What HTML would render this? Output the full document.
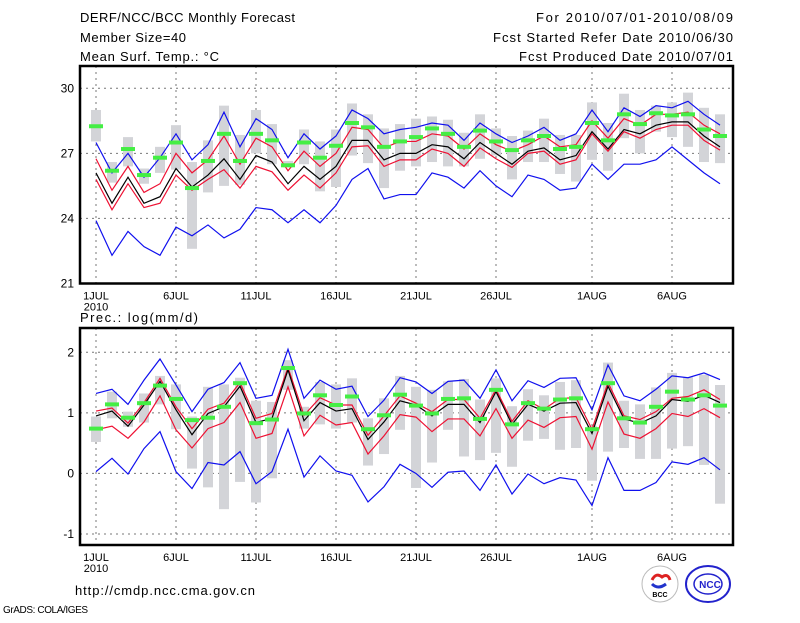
<!DOCTYPE html>
<html><head><meta charset="utf-8"><style>
body{margin:0;background:#fff}
svg text{font-family:"Liberation Sans",sans-serif;fill:#000}
</style></head><body>
<svg id="chart" width="800" height="618" viewBox="0 0 800 618" xmlns="http://www.w3.org/2000/svg">
<rect width="800" height="618" fill="#fff"/>
<g font-size="13">
<text x="80" y="22" textLength="215">DERF/NCC/BCC Monthly Forecast</text>
<text x="80" y="42" textLength="106">Member Size=40</text>
<text x="80" y="61" textLength="139">Mean Surf. Temp.: °C</text>
<text x="733" y="22" text-anchor="end" textLength="197">For 2010/07/01-2010/08/09</text>
<text x="733" y="42" text-anchor="end" textLength="240">Fcst Started Refer Date 2010/06/30</text>
<text x="733" y="61" text-anchor="end" textLength="214">Fcst Produced Date 2010/07/01</text>
<text x="80" y="322" textLength="118">Prec.: log(mm/d)</text>
<text x="75" y="595" textLength="180">http://cmdp.ncc.cma.gov.cn</text>
<text x="3" y="613" font-size="10" textLength="85">GrADS: COLA/IGES</text>
</g>
<g>
<circle cx="660" cy="584" r="18" fill="#fff" stroke="#bbb" stroke-width="1"/>
<path d="M652 580 q4 -8 10 -3 q6 -4 8 3" fill="none" stroke="#d22" stroke-width="3"/>
<path d="M652 584 q6 6 14 0" fill="none" stroke="#23c" stroke-width="3"/>
<text x="660" y="597" font-size="7" text-anchor="middle" font-weight="bold">BCC</text>
<ellipse cx="708" cy="584" rx="22" ry="18" fill="#fff" stroke="#22c" stroke-width="2"/>
<ellipse cx="708" cy="584" rx="14" ry="10" fill="none" stroke="#22c" stroke-width="1.5"/>
<text x="710" y="588" font-size="10" text-anchor="middle" fill="#22c" style="fill:#22c" font-weight="bold">NCC</text>
</g>
<g id="top"></g>
<g id="bot"></g>
</svg>
<script>
const xLabels=["1JUL","6JUL","11JUL","16JUL","21JUL","26JUL","1AUG","6AUG"];
const xLabelDays=[0,5,10,15,20,25,31,36];
const tTicks=[21,24,27,30];
const pTicks=[-1,0,1,2];
const tMax=[27.5,26.1,27.0,25.9,26.8,27.9,26.7,27.4,28.9,27.3,28.6,28.1,26.8,27.9,27.2,27.8,29.0,28.6,27.9,28.1,28.2,28.4,28.3,27.6,28.4,27.9,27.5,27.8,28.2,27.6,27.9,29.0,28.0,29.1,28.7,29.2,29.1,29.4,28.8,28.3];
const tMin=[23.9,22.3,23.4,22.7,22.3,23.6,23.2,23.7,23.1,23.5,24.5,24.4,23.8,24.4,23.8,24.6,25.8,26.3,24.9,25.1,25.1,26.1,25.9,25.4,26.2,25.5,25.0,26.0,25.8,25.3,25.4,26.5,25.8,26.5,26.5,26.7,27.3,26.7,26.1,25.6];
const tUp=[26.75,25.3,26.4,25.2,25.6,27.0,26.1,26.7,27.8,26.5,27.7,27.3,26.2,27.1,26.4,27.0,28.2,28.1,27.25,27.55,27.55,27.9,27.8,27.2,27.9,27.4,27.1,27.4,27.8,27.3,27.4,28.5,27.7,28.6,28.3,28.8,28.8,28.9,28.3,27.9];
const tMean=[26.1,24.7,25.9,24.7,25.0,26.3,25.45,26.0,26.75,25.8,26.9,26.6,25.6,26.4,25.8,26.4,27.6,27.6,26.7,27.0,27.0,27.4,27.3,26.75,27.5,27.0,26.5,27.1,27.25,26.7,26.9,28.0,27.2,28.1,27.9,28.3,28.45,28.45,27.8,27.3];
const tLow=[25.8,24.4,25.6,24.5,24.7,26.0,25.3,25.8,26.25,25.4,26.4,26.15,25.3,26.0,25.4,26.1,27.3,27.35,26.4,26.7,26.7,27.2,27.0,26.4,27.25,26.75,26.35,27.0,27.1,26.5,26.7,27.9,27.1,28.0,27.7,28.1,28.3,28.3,27.6,27.15];
const tObs=[28.25,26.2,27.2,26.0,26.8,27.5,25.4,26.65,27.9,26.65,27.9,27.6,26.45,27.5,26.8,27.35,28.4,28.2,27.3,27.55,27.75,28.15,27.9,27.3,28.05,27.55,27.15,27.6,27.8,27.2,27.3,28.4,27.6,28.8,28.35,28.85,28.75,28.8,28.1,27.8];
const tBarHi=[29.0,26.6,27.75,26.3,27.3,28.3,26.6,27.6,29.2,27.85,29.0,28.35,26.65,28.1,27.55,28.1,29.3,28.8,28.15,28.35,28.6,28.7,28.55,27.95,28.8,28.15,27.8,28.05,28.6,27.85,27.85,29.35,28.4,29.75,29.0,29.2,29.35,29.8,29.1,28.8];
const tBarLo=[27.55,25.65,26.4,25.6,26.1,26.25,22.6,25.2,25.5,25.55,27.0,26.5,26.35,26.5,25.25,25.45,26.9,26.55,25.4,26.2,26.4,26.6,26.4,26.4,26.75,26.9,25.8,26.6,26.6,26.05,25.7,26.7,26.2,27.7,27.0,28.0,27.75,27.3,26.6,26.55];
const pMax=[1.32,1.39,1.14,1.54,1.89,1.46,1.02,1.39,1.5,1.83,1.24,1.29,2.05,1.24,1.54,1.39,1.44,0.94,1.21,1.58,1.51,1.32,1.52,1.54,1.24,1.71,1.2,1.53,1.42,1.57,1.58,1.05,1.79,1.28,1.2,1.39,1.61,1.58,1.66,1.55];
const pMin=[0.03,0.25,-0.01,0.41,0.69,0.03,-0.25,0.18,0.14,0.36,-0.17,0.03,0.73,-0.06,0.29,0.04,-0.03,-0.47,-0.22,0.15,0.0,-0.23,0.02,0.04,-0.28,0.14,-0.34,-0.01,-0.17,-0.07,-0.11,-0.53,0.26,-0.28,-0.28,-0.15,0.19,0.15,0.26,0.06];
const pUp=[1.03,1.08,0.83,1.17,1.57,1.1,0.74,1.06,1.16,1.5,0.91,0.99,1.75,0.96,1.25,1.13,1.13,0.63,0.95,1.28,1.16,1.02,1.22,1.22,0.91,1.39,0.86,1.2,1.06,1.24,1.25,0.73,1.5,0.95,0.89,1.02,1.24,1.27,1.38,1.22];
const pMean=[0.95,1.03,0.78,1.13,1.52,1.05,0.64,0.99,1.1,1.44,0.84,0.91,1.71,0.87,1.17,1.03,1.07,0.56,0.85,1.2,1.13,0.95,1.14,1.14,0.84,1.35,0.81,1.14,1.03,1.16,1.17,0.66,1.44,0.9,0.83,0.95,1.22,1.19,1.29,1.17];
const pLow=[0.72,0.78,0.58,0.85,1.28,0.72,0.42,0.74,0.84,1.17,0.58,0.66,1.43,0.62,0.96,0.8,0.84,0.32,0.62,0.97,0.93,0.69,0.9,0.9,0.62,1.07,0.58,0.88,0.76,0.92,0.94,0.4,1.18,0.65,0.58,0.74,0.99,0.94,1.07,0.92];
const pObs=[0.74,1.14,0.92,1.16,1.45,1.23,0.88,0.92,1.1,1.49,0.83,0.89,1.74,0.99,1.29,1.13,1.27,0.73,0.96,1.3,1.12,0.99,1.23,1.24,0.9,1.38,0.81,1.16,1.07,1.22,1.24,0.73,1.49,0.91,0.84,1.1,1.35,1.22,1.29,1.12];
const pBarHi=[0.94,1.35,1.02,1.32,1.61,1.47,0.94,1.43,1.47,1.58,1.2,1.18,1.87,1.1,1.51,1.47,1.57,0.91,1.24,1.61,1.43,1.38,1.52,1.56,1.22,1.57,1.11,1.39,1.29,1.51,1.54,0.78,1.83,1.2,1.14,1.42,1.66,1.59,1.63,1.46];
const pBarLo=[0.52,0.91,0.77,0.84,1.14,0.73,0.08,-0.23,-0.59,-0.14,-0.48,-0.08,1.38,0.74,0.81,0.74,0.84,0.13,0.32,0.72,-0.24,0.18,0.72,0.28,0.22,0.34,0.11,0.54,0.57,0.39,0.42,-0.12,0.36,0.42,0.24,0.24,0.41,0.45,0.14,-0.5];

const NS="http://www.w3.org/2000/svg";
function mk(parent,tag,attrs){const e=document.createElementNS(NS,tag);for(const k in attrs)e.setAttribute(k,attrs[k]);parent.appendChild(e);return e;}
const X0=80,X1=733,DX0=96,DW=16;
function xS(d){return DX0+d*DW;}

function panel(g,top,bot,vmin,vmax,ticks,hi,lo,mx,mn,up,mean,low,obs,lab){
  const yS=v=>bot-(v-vmin)/(vmax-vmin)*(bot-top);
  ticks.forEach(t=>{const l=mk(g,'line',{x1:X0,x2:X1,y1:yS(t),y2:yS(t),stroke:'#777','stroke-dasharray':'2,4','stroke-width':1});
    
    const tx=mk(g,'text',{x:X0-6,y:yS(t)+4,'text-anchor':'end','font-size':12});tx.textContent=t;
    });
  xLabelDays.forEach((d,i)=>{const l=mk(g,'line',{x1:xS(d),x2:xS(d),y1:top,y2:bot,stroke:'#777','stroke-dasharray':'2,4','stroke-width':1});
    
    const tx=mk(g,'text',{x:xS(d),y:bot+16,'text-anchor':'middle','font-size':11});tx.textContent=xLabels[i];
    });
  const yr=mk(g,'text',{x:xS(0),y:bot+27,'text-anchor':'middle','font-size':11});yr.textContent='2010';
  
  hi.forEach((h,d)=>{const r=mk(g,'rect',{x:xS(d)-5,y:yS(h),width:10,height:yS(lo[d])-yS(h),fill:'#d3d4d8'});
    });
  const line=(arr,col,nm)=>{const p=mk(g,'polyline',{points:arr.map((v,d)=>xS(d)+','+yS(v)).join(' '),fill:'none',stroke:col,'stroke-width':1.2});
    };
  line(mx,'#1010ee',lab+'-max-line');line(mn,'#1010ee',lab+'-min-line');
  line(up,'#ee1133',lab+'-upper-line');line(low,'#ee1133',lab+'-lower-line');
  line(mean,'#000',lab+'-mean-line');
  obs.forEach((v,d)=>{const r=mk(g,'rect',{x:xS(d)-7,y:yS(v)-2,width:14,height:4,fill:'#44ee44'});
    });
  const f=mk(g,'rect',{x:X0,y:top,width:X1-X0,height:bot-top,fill:'none',stroke:'#000','stroke-width':2.5});
  
}
const gt=document.getElementById('top');

const gb=document.getElementById('bot');

panel(gt,66,283.5,21,21+(283.5-66)/21.69,tTicks,tBarHi,tBarLo,tMax,tMin,tUp,tMean,tLow,tObs,'temp');
panel(gb,328,545,-1-(545-534)/60.57,-1+(534-328)/60.57,pTicks,pBarHi,pBarLo,pMax,pMin,pUp,pMean,pLow,pObs,'prec');
</script>
</body></html>
